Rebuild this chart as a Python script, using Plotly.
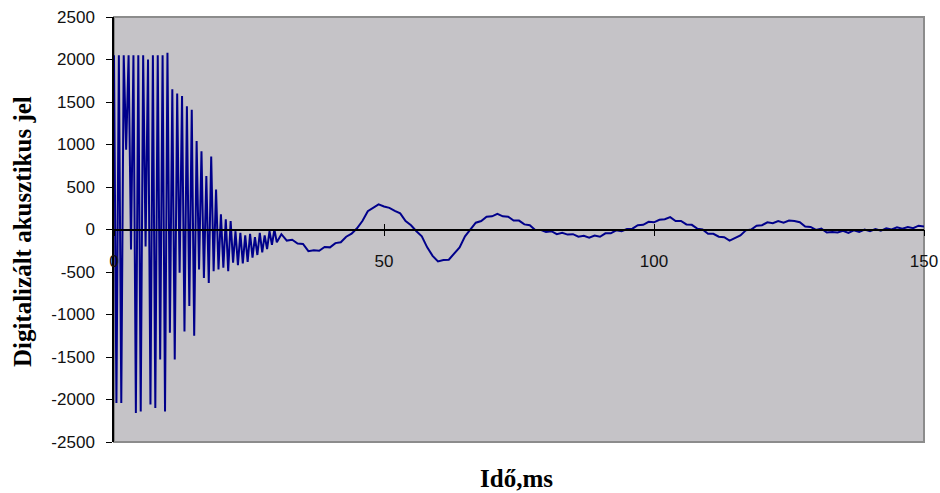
import plotly.graph_objects as go

# Burst part (0-30 ms): sample times (ms) and values
t_burst = [0.0, 0.45, 0.9, 1.35, 1.8, 2.25, 2.7, 3.15, 3.6, 4.05, 4.5, 4.95, 5.4, 5.85,
           6.3, 6.75, 7.2, 7.65, 8.1, 8.55, 9.0, 9.45, 9.9, 10.35, 10.8, 11.25, 11.7,
           12.15, 12.6, 13.05, 13.5, 13.95, 14.4, 14.85, 15.3, 15.75, 16.2, 16.65, 17.1,
           17.55, 18.0, 18.45, 18.9, 19.35, 19.8, 20.25, 20.7, 21.15, 21.6, 22.05, 22.5,
           22.95, 23.4, 23.85, 24.3, 24.75, 25.2, 25.65, 26.1, 26.55, 27.0, 27.45, 27.9,
           28.35, 28.8, 29.25, 29.7, 30.15]
v_burst = [2050, -2040, 2050, -2040, 2050, 940, 2050, -235, 2050, -2160, 2050, -2140,
           2050, -200, 2000, -2060, 2050, -2100, 2050, -1530, 2050, -2140, 2080, -1215,
           1650, -1530, 1600, -510, 1570, -1200, 1450, -900, 1410, -1250, 1040, -470,
           920, -570, 630, -630, 860, -490, 470, -470, 180, -450, 120, -490, 100, -390,
           -20, -420, -40, -400, -70, -380, -50, -330, -90, -300, -40, -270, -70, -230,
           -20, -180, 0, -150]

# Tail part (31-150 ms), 1 ms steps
t_tail = list(range(31, 151))
v_tail = [-55, -130, -120, -165, -170, -255, -245, -250, -205, -210,
          -160, -150, -85, -50, 15, 100, 215, 255, 295, 270,
          255, 220, 190, 100, 50, -20, -80, -210, -310, -375,
          -360, -355, -280, -210, -80, 0, 80, 100, 150, 155,
          185, 155, 150, 105, 105, 60, 50, -5, -5, -30,
          -20, -55, -40, -60, -55, -85, -75, -95, -70, -85,
          -45, -45, -10, -20, 5, 10, 50, 55, 90, 85,
          115, 120, 145, 100, 100, 60, 55, 10, 0, -50,
          -50, -85, -90, -130, -100, -70, -10, 0, 45, 50,
          85, 75, 100, 80, 105, 100, 85, 35, 30, -5,
          10, -35, -30, -35, -15, -40, -10, -30, 0, -20,
          5, -15, 15, 0, 25, 10, 30, 15, 45, 35]

x_ticks = [0, 50, 100, 150]
y_ticks = [-2500, -2000, -1500, -1000, -500, 0, 500, 1000, 1500, 2000, 2500]

t_all = t_burst + t_tail
v_all = v_burst + v_tail

fig = go.Figure()
fig.add_trace(go.Scatter(x=t_all, y=v_all, mode="lines",
                         line=dict(color="#00008B", width=2),
                         showlegend=False, hoverinfo="skip"))
# invisible trace to bind the secondary x axis (inner tick half)
fig.add_trace(go.Scatter(x=[x_ticks[0], x_ticks[-1]], y=[0, 0], xaxis="x2",
                         mode="lines", line=dict(width=0), showlegend=False,
                         hoverinfo="skip"))

tickfont = dict(family="Liberation Sans, Arial", size=17, color="#111111")
titlefont = dict(family="Liberation Serif, Times New Roman", size=25, color="black")

fig.update_layout(
    width=940, height=493,
    margin=dict(l=114, r=16, t=17, b=51),
    paper_bgcolor="white",
    plot_bgcolor="#C5C3C7",
    xaxis=dict(range=[0, 150], tickvals=x_ticks, ticktext=[str(v) for v in x_ticks],
               anchor="free", position=0.5, showline=True, linecolor="black",
               linewidth=1.5, ticks="outside", ticklen=6, tickcolor="black",
               tickwidth=1.2, showgrid=False, zeroline=False, tickfont=tickfont,
               ticklabelstandoff=10, automargin=False),
    xaxis2=dict(range=[0, 150], tickvals=x_ticks, overlaying="x", anchor="free",
                position=0.5, showline=False, ticks="inside", ticklen=6,
                tickcolor="black", tickwidth=1.2, showticklabels=False,
                showgrid=False, zeroline=False, automargin=False),
    yaxis=dict(range=[-2500, 2500], tickvals=y_ticks,
               ticktext=[str(v) for v in y_ticks], showline=True, linecolor="black",
               linewidth=1.5, ticks="outside", ticklen=6, tickcolor="black",
               tickwidth=1.2, showgrid=False, zeroline=False, tickfont=tickfont,
               ticklabelstandoff=8, automargin=False),
    shapes=[dict(type="rect", xref="paper", yref="paper", x0=0, x1=1, y0=0, y1=1,
                 line=dict(color="#8C8C8C", width=2), layer="below")],
    annotations=[
        dict(text="<b>Idő,ms</b>", xref="paper", yref="paper", x=0.497, y=-0.087,
             xanchor="center", yanchor="middle", showarrow=False, font=titlefont),
        dict(text="<b>Digitalizált akusztikus jel</b>", xref="paper", yref="paper",
             x=-0.113, y=0.495, xanchor="center", yanchor="middle", textangle=-90,
             showarrow=False, font=titlefont),
    ],
)

fig.write_html("out.html")
